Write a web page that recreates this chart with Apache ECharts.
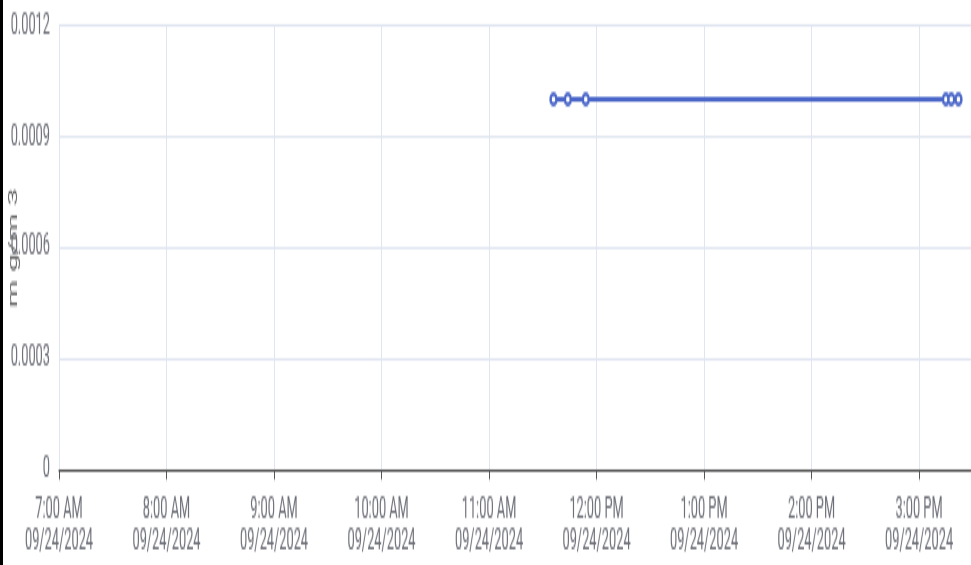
<!DOCTYPE html>
<html>
<head>
<meta charset="utf-8">
<script src="https://cdn.jsdelivr.net/npm/echarts@6/dist/echarts.min.js"></script>
<style>
  html, body { margin: 0; padding: 0; background: #fff; overflow: hidden; }
  #wrap { position: relative; width: 971px; height: 565px; overflow: hidden; }
  #chart { position: absolute; left: 0; top: 0; width: 971px; height: 233.5px; transform: scale(1, 2.4197); transform-origin: 0 0; }
  #edge { position: absolute; left: 0; top: 0; width: 3px; height: 565px; background: #000; }
</style>
</head>
<body>
<div id="wrap"><div id="chart"></div><div id="edge"></div></div>
<script>
// ---- data ----
const day = [2024, 8, 24];               // 09/24/2024
const pointTimes = ['11:36', '11:44', '11:54', '15:15', '15:18', '15:22'];
const pointValues = [0.001, 0.001, 0.001, 0.001, 0.001, 0.001];
const xStart = '07:00';
const xEnd = '15:29';
const yMin = 0, yMax = 0.0012, yStep = 0.0003;
const yName = 'm g/m 3';

function toMs(hhmm) {
  const [h, m] = hhmm.split(':').map(Number);
  return Date.UTC(day[0], day[1], day[2], h, m);
}
const seriesData = pointTimes.map((t, i) => [toMs(t), pointValues[i]]);

function pad(n) { return (n < 10 ? '0' : '') + n; }
function fmtX(v) {
  const d = new Date(v);
  let h = d.getUTCHours();
  const ap = h >= 12 ? 'PM' : 'AM';
  let h12 = h % 12; if (h12 === 0) h12 = 12;
  return h12 + ':' + pad(d.getUTCMinutes()) + ' ' + ap + '\n' +
    pad(d.getUTCMonth() + 1) + '/' + pad(d.getUTCDate()) + '/' + d.getUTCFullYear();
}

const chart = echarts.init(document.getElementById('chart'), null, { renderer: 'canvas' });
chart.setOption({
  animation: false,
  textStyle: { fontFamily: 'Roboto' },
  grid: { left: 59, right: 0, top: 10.33, height: 183.9, containLabel: false, outerBoundsMode: 'none' },
  xAxis: {
    type: 'value',
    min: toMs(xStart),
    max: toMs(xEnd),
    interval: 3600 * 1000,
    axisLine: { show: true, lineStyle: { color: '#555', width: 1 } },
    axisTick: { show: true, length: 4, lineStyle: { color: '#555' } },
    splitLine: { show: true, lineStyle: { color: '#E0E6F1', width: 1 } },
    axisLabel: {
      formatter: fmtX, color: '#6e7079', fontSize: 12.8, lineHeight: 13,
      margin: 10, showMaxLabel: false, fontFamily: 'Roboto'
    }
  },
  yAxis: {
    type: 'value',
    min: yMin, max: yMax, interval: yStep,
    name: yName, nameLocation: 'middle', nameGap: 39, nameMoveOverlap: false,
    nameTextStyle: { color: '#666', fontSize: 13, fontFamily: 'Roboto' },
    axisLine: { show: false },
    axisTick: { show: false },
    splitLine: { show: true, lineStyle: { color: '#E0E6F1', width: 1 } },
    axisLabel: {
      color: '#6e7079', fontSize: 12.8, margin: 9, fontFamily: 'Roboto',
      formatter: v => (v === 0 ? '0' : v.toFixed(4))
    }
  },
  series: [{
    type: 'line',
    data: seriesData,
    symbol: 'emptyCircle',
    symbolSize: [6, 4.2],
    showAllSymbol: true,
    lineStyle: { color: '#4a66c8', width: 2 },
    itemStyle: { color: '#4a66c8', borderWidth: 1.5 }
  }]
});
</script>
</body>
</html>
